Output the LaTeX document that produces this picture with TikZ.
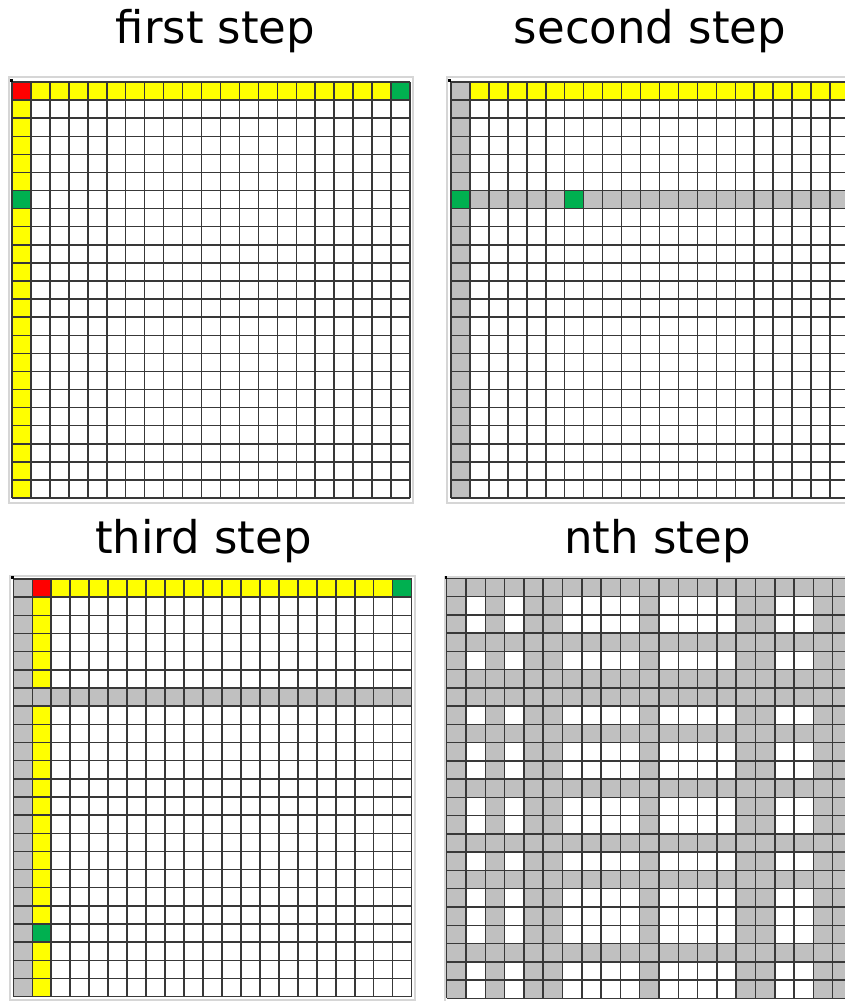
\documentclass[tikz,border=0pt]{standalone}
\usepackage{fontspec}
\setsansfont{DejaVu Sans}
\definecolor{cellred}{HTML}{FF0000}
\definecolor{cellyellow}{HTML}{FFFF00}
\definecolor{cellgreen}{HTML}{00B050}
\definecolor{cellgray}{HTML}{C0C0C0}
\definecolor{shotframe}{HTML}{D6D6D6}
\tikzset{
  title/.style={font=\sffamily\fontsize{45}{54}\selectfont,anchor=base,inner sep=0pt},
  gridline/.style={draw=black!78,line width=1.5pt},
  shot/.style={draw=shotframe,line width=1.2pt},
  corner/.style={fill=black}
}

\begin{document}
\begin{tikzpicture}[x=1pt,y=-1pt]
\useasboundingbox (0,0) rectangle (845,1001);
\clip (0,0) rectangle (845,1001);

% titles
\node[title] (first) at (215.5,43) {first step};
\node[title] (second) at (650,43) {second step};
\node[title] (third) at (203.5,553) {third step};
\node[title] (nth) at (657.5,553) {nth step};

% first step
\draw[shot] (9,77) rectangle (413,503);
\begin{scope}[shift={(12pt,-82pt)},x=18.95pt,y=-18.09pt]
  \fill[cellred] (0,0) rectangle ++(1,1);
  \foreach \c in {1,...,19} \fill[cellyellow] (\c,0) rectangle ++(1,1);
  \fill[cellgreen] (20,0) rectangle ++(1,1);
  \foreach \r in {1,...,22} \fill[cellyellow] (0,\r) rectangle ++(1,1);
  \fill[cellgreen] (0,6) rectangle ++(1,1);
  \foreach \c in {0,...,21} \draw[gridline] (\c,0) -- (\c,23);
  \foreach \r in {0,...,23} \draw[gridline] (0,\r) -- (21,\r);
\end{scope}
\fill[corner] (10,78.5) rectangle (12.8,81.5);

% second step
\draw[shot] (447,77) rectangle (860,503);
\begin{scope}[shift={(451pt,-82pt)},x=18.95pt,y=-18.09pt]
  \foreach \r in {0,...,22} \fill[cellgray] (0,\r) rectangle ++(1,1);
  \foreach \c in {1,...,20} \fill[cellyellow] (\c,0) rectangle ++(1,1);
  \foreach \c in {1,...,20} \fill[cellgray] (\c,6) rectangle ++(1,1);
  \fill[cellgreen] (0,6) rectangle ++(1,1);
  \fill[cellgreen] (6,6) rectangle ++(1,1);
  \foreach \c in {0,...,21} \draw[gridline] (\c,0) -- (\c,23);
  \foreach \r in {0,...,23} \draw[gridline] (0,\r) -- (21,\r);
\end{scope}
\fill[corner] (448,78.5) rectangle (450.8,81.5);

% third step
\draw[shot] (10,576) rectangle (415,1000);
\begin{scope}[shift={(13.3pt,-579pt)},x=18.97pt,y=-18.16pt]
  \foreach \r in {0,...,22} \fill[cellgray] (0,\r) rectangle ++(1,1);
  \foreach \c in {1,...,20} \fill[cellgray] (\c,6) rectangle ++(1,1);
  \fill[cellred] (1,0) rectangle ++(1,1);
  \foreach \c in {2,...,19} \fill[cellyellow] (\c,0) rectangle ++(1,1);
  \fill[cellgreen] (20,0) rectangle ++(1,1);
  \foreach \r in {1,...,5,7,8,...,18,20,21,22} \fill[cellyellow] (1,\r) rectangle ++(1,1);
  \fill[cellgreen] (1,19) rectangle ++(1,1);
  \foreach \c in {0,...,21} \draw[gridline] (\c,0) -- (\c,23);
  \foreach \r in {0,...,23} \draw[gridline] (0,\r) -- (21,\r);
\end{scope}
\fill[corner] (11,576) rectangle (13.8,579);

% nth step
\draw[shot] (445,577) rectangle (860,1005);
\begin{scope}[shift={(446.7pt,-578.3pt)},x=19.3pt,y=-18.26pt]
  \foreach \r in {0,3,5,6,8,11,14,16,20} \fill[cellgray] (0,\r) rectangle ++(21,1);
  \foreach \c in {0,2,4,5,10,15,16,19,20} \fill[cellgray] (\c,0) rectangle ++(1,23);
  \foreach \c in {0,...,21} \draw[gridline] (\c,0) -- (\c,23);
  \foreach \r in {0,...,23} \draw[gridline] (0,\r) -- (21,\r);
\end{scope}
\fill[corner] (444.5,576.3) rectangle (447,579);
\end{tikzpicture}
\end{document}
